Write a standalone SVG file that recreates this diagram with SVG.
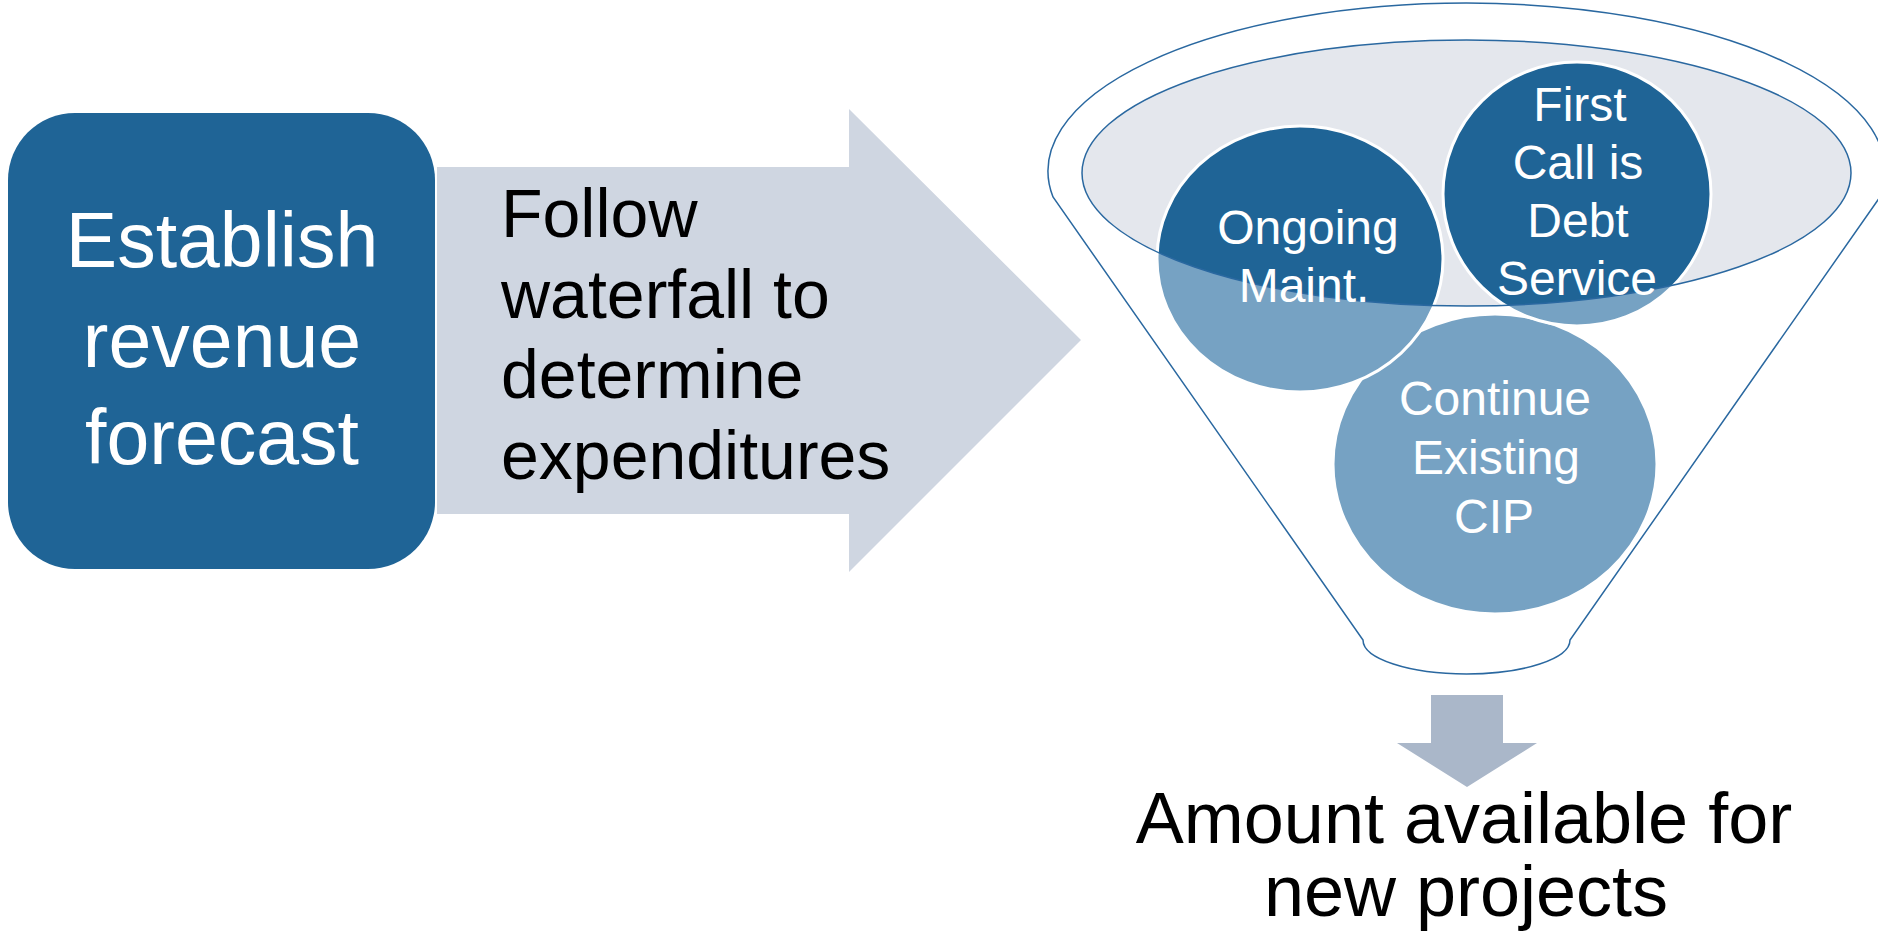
<svg xmlns="http://www.w3.org/2000/svg" width="1878" height="935" viewBox="0 0 1878 935">
<style>
  .t { font-family: "Liberation Sans", Arial, sans-serif; }
  .w { fill: #ffffff; }
  .k { fill: #000000; }
  .dark { fill: #1f6496; }
  .light { fill: #76a2c3; }
  .ring { fill: none; stroke: #ffffff; stroke-width: 3; }
  .rim { fill: none; stroke: #2a68a0; stroke-width: 1.5; }
</style>
<defs>
  <clipPath id="mouth">
    <ellipse cx="1466.5" cy="173" rx="384.5" ry="133"/>
  </clipPath>
</defs>
<rect width="1878" height="935" fill="#ffffff"/>

<g id="node-arrow">
  <path d="M 437 167 L 849 167 L 849 109 L 1081 340 L 849 572 L 849 514 L 437 514 Z" fill="#cfd6e1"/>
  <g class="t k" font-size="68">
    <text x="501" y="237">Follow</text>
    <text x="501" y="318">waterfall to</text>
    <text x="501" y="398">determine</text>
    <text x="501" y="479">expenditures</text>
  </g>
</g>

<g id="node-establish">
  <rect x="8" y="113" width="427" height="456" rx="67" ry="67" class="dark"/>
  <g class="t w" font-size="77" text-anchor="middle">
    <text x="222" y="267">Establish</text>
    <text x="222" y="367">revenue</text>
    <text x="222" y="464">forecast</text>
  </g>
</g>

<g id="node-funnel">
  <path d="M 1053 197 A 418.5 168 0 1 1 1880 197 L 1570 640 A 103.5 34 0 0 1 1363 640 Z" fill="#ffffff" class="rim"/>
  <ellipse cx="1466.5" cy="173" rx="384.5" ry="133" fill="#e4e7ed"/>
</g>

<g id="node-continue">
  <ellipse cx="1495" cy="464" rx="162" ry="150" class="light"/>
  <ellipse cx="1495" cy="464" rx="162" ry="150" class="dark" clip-path="url(#mouth)"/>
  <ellipse cx="1495" cy="464" rx="162" ry="150" class="ring"/>
</g>

<g id="node-ongoing">
  <ellipse cx="1300" cy="259" rx="143" ry="133" class="light"/>
  <ellipse cx="1300" cy="259" rx="143" ry="133" class="dark" clip-path="url(#mouth)"/>
  <ellipse cx="1300" cy="259" rx="143" ry="133" class="ring"/>
</g>

<g id="node-debt">
  <ellipse cx="1577" cy="194" rx="134" ry="132" class="light"/>
  <ellipse cx="1577" cy="194" rx="134" ry="132" class="dark" clip-path="url(#mouth)"/>
  <ellipse cx="1577" cy="194" rx="134" ry="132" class="ring"/>
</g>

<g id="funnel-rim">
  <ellipse cx="1466.5" cy="173" rx="384.5" ry="133" class="rim"/>
</g>

<g id="labels-circles" class="t w" font-size="48" text-anchor="middle">
  <text x="1308" y="244">Ongoing</text>
  <text x="1304" y="302">Maint.</text>
  <text x="1580" y="121">First</text>
  <text x="1578" y="179">Call is</text>
  <text x="1578" y="237">Debt</text>
  <text x="1577" y="295">Service</text>
  <text x="1495" y="415">Continue</text>
  <text x="1496" y="474">Existing</text>
  <text x="1494" y="533">CIP</text>
</g>

<g id="connectors">
  <path d="M 1431 695 L 1503 695 L 1503 743 L 1537 743 L 1467 787 L 1397 743 L 1431 743 Z" fill="#aab7c9"/>
</g>

<g id="node-result" class="t k" font-size="72" text-anchor="middle">
  <text x="1464" y="843">Amount available for</text>
  <text x="1466" y="916">new projects</text>
</g>
</svg>
